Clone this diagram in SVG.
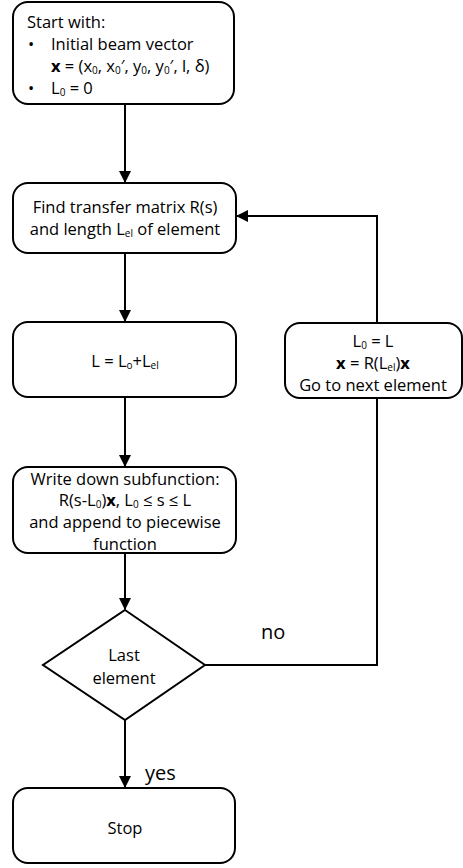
<svg xmlns="http://www.w3.org/2000/svg" width="463" height="868" viewBox="0 0 463 868">
<style>
.box{fill:#fff;stroke:#000;stroke-width:2}
.ln{fill:none;stroke:#000;stroke-width:2}
text{font-family:"Open Sans","Liberation Sans",sans-serif;font-size:16.5px;fill:#000}
.c{text-anchor:middle}
.lbl{font-size:20px}
.s{font-size:10px}
</style>
<defs>
<marker id="ah" markerWidth="12" markerHeight="12" refX="11" refY="6" orient="auto" markerUnits="userSpaceOnUse">
<path d="M0,0 L12,6 L0,12 Z" fill="#000"/>
</marker>
</defs>
<g id="connectors">
<line class="ln" x1="125" y1="104" x2="125" y2="182" marker-end="url(#ah)"/>
<line class="ln" x1="125" y1="253" x2="125" y2="321" marker-end="url(#ah)"/>
<line class="ln" x1="125" y1="397" x2="125" y2="466" marker-end="url(#ah)"/>
<line class="ln" x1="125" y1="553" x2="125" y2="609" marker-end="url(#ah)"/>
<line class="ln" x1="125" y1="720" x2="125" y2="787" marker-end="url(#ah)"/>
<polyline class="ln" points="205,665 377,665 377,355" marker-end="url(#ah)"/>
<polyline class="ln" points="377,323 377,216 237,216" marker-end="url(#ah)"/>
<text class="lbl" x="261" y="639">no</text>
<text class="lbl" x="145" y="780">yes</text>
</g>
<g id="start">
<rect class="box" x="13" y="2" width="221" height="102" rx="15"/>
<text x="27" y="28">Start with:</text>
<text x="28" y="50">•</text>
<text x="51" y="50">Initial beam vector</text>
<text x="51" y="72"><tspan font-weight="bold">x</tspan> = (x<tspan class="s" dy="2">0</tspan><tspan dy="-2">, x</tspan><tspan class="s" dy="2">0</tspan><tspan dy="-2">′, y</tspan><tspan class="s" dy="2">0</tspan><tspan dy="-2">, y</tspan><tspan class="s" dy="2">0</tspan><tspan dy="-2">′, l, δ)</tspan></text>
<text x="28" y="94">•</text>
<text x="51" y="94">L<tspan class="s" dy="2">0</tspan><tspan dy="-2"> = 0</tspan></text>
</g>
<g id="find">
<rect class="box" x="13" y="183" width="223" height="70" rx="15"/>
<text class="c" x="125" y="213">Find transfer matrix R(s)</text>
<text class="c" x="125" y="235">and length L<tspan class="s" dy="2">el</tspan><tspan dy="-2"> of element</tspan></text>
</g>
<g id="sum">
<rect class="box" x="13" y="322" width="223" height="75" rx="15"/>
<text class="c" x="125" y="367">L = L<tspan class="s" dy="2">o</tspan><tspan dy="-2">+L</tspan><tspan class="s" dy="2">el</tspan></text>
</g>
<g id="write">
<rect class="box" x="13" y="467" width="223" height="86" rx="15"/>
<text class="c" x="125" y="485">Write down subfunction:</text>
<text class="c" x="125" y="506">R(s-L<tspan class="s" dy="1.5">0</tspan><tspan dy="-1.5">)</tspan><tspan font-weight="bold">x</tspan>, L<tspan class="s" dy="1.5">0</tspan><tspan dy="-1.5"> ≤ s ≤ L</tspan></text>
<text class="c" x="125" y="528">and append to piecewise</text>
<text class="c" x="125" y="550">function</text>
</g>
<g id="update">
<rect class="box" x="285" y="323" width="177" height="75" rx="15"/>
<text class="c" x="373" y="347">L<tspan class="s" dy="2">0</tspan><tspan dy="-2"> = L</tspan></text>
<text class="c" x="373" y="369"><tspan font-weight="bold">x</tspan> = R(L<tspan class="s" dy="2">el</tspan><tspan dy="-2">)</tspan><tspan font-weight="bold">x</tspan></text>
<text class="c" x="373" y="391">Go to next element</text>
</g>
<g id="decision">
<polygon class="box" points="125,610 205,665 125,720 43,665"/>
<text class="c" x="124" y="661">Last</text>
<text class="c" x="124" y="684">element</text>
</g>
<g id="stop">
<rect class="box" x="13" y="788" width="222" height="75" rx="15"/>
<text class="c" x="125" y="834">Stop</text>
</g>
</svg>
